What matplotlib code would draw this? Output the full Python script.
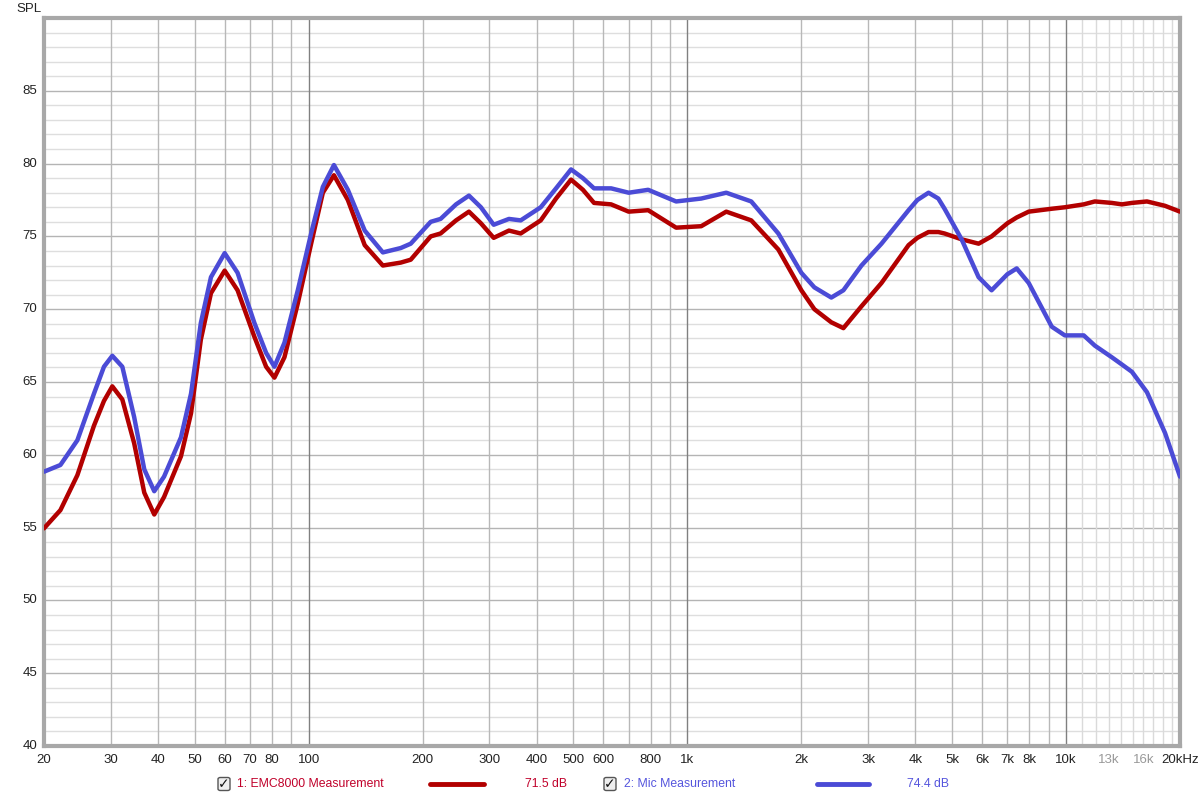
import numpy as np
import matplotlib
matplotlib.use("Agg")
import matplotlib.pyplot as plt
from matplotlib.patches import FancyBboxPatch
from matplotlib.lines import Line2D

# ---------------- data ----------------
freq_hz = [20, 22.1, 24.5, 27.1, 28.8, 30.3, 32.2, 34.6, 36.8, 39.1, 41.5, 46.0, 48.9, 51.9,
           55.2, 60, 64.9, 71.9, 77.2, 81.2, 86.3, 93.6, 101.5, 109, 116.6, 126.9, 140.6,
           157, 175, 186, 210, 223, 245, 265, 285, 308, 338, 363, 410, 450, 493, 530, 567,
           629, 700, 788, 934, 1088, 1267, 1475, 1739, 2000, 2165, 2400, 2583, 2883, 3256,
           3839, 4050, 4335, 4600, 4778, 5300, 5877, 6360, 7000, 7410, 7971, 9170, 9929,
           11140, 11914, 13210, 14050, 14930, 16360, 18260, 20000]

emc8000_db = [54.95, 56.2, 58.6, 62.0, 63.7, 64.7, 63.8, 60.8, 57.4, 55.9, 57.1, 59.9, 62.85, 67.9,
              71.1, 72.65, 71.3, 68.1, 66.05, 65.3, 66.7, 70.4, 74.5, 78.0, 79.2, 77.5, 74.4,
              73.0, 73.2, 73.4, 75.0, 75.2, 76.1, 76.7, 75.9, 74.9, 75.4, 75.2, 76.1, 77.6, 78.9, 78.2, 77.3,
              77.2, 76.7, 76.8, 75.6, 75.7, 76.7, 76.1, 74.1, 71.3, 70.0, 69.1, 68.7, 70.2, 71.8,
              74.4, 74.9, 75.3, 75.3, 75.2, 74.8, 74.5, 75.0, 75.9, 76.3, 76.7, 76.9, 77.0,
              77.2, 77.4, 77.3, 77.2, 77.3, 77.4, 77.1, 76.7]

mic_db = [58.84, 59.3, 61.0, 64.2, 66.05, 66.8, 66.05, 62.6, 59.0, 57.5, 58.5, 61.2, 64.2, 69.05,
          72.2, 73.85, 72.5, 69.05, 67.0, 66.05, 67.7, 71.3, 75.2, 78.4, 79.9, 78.2, 75.4,
          73.9, 74.2, 74.5, 76.0, 76.2, 77.2, 77.8, 77.0, 75.8, 76.2, 76.1, 77.0, 78.3, 79.6, 79.0, 78.3,
          78.3, 78.0, 78.2, 77.4, 77.6, 78.0, 77.4, 75.2, 72.5, 71.5, 70.8, 71.3, 73.0, 74.5,
          76.8, 77.5, 78.0, 77.6, 76.9, 74.8, 72.2, 71.3, 72.4, 72.8, 71.8, 68.8, 68.2,
          68.2, 67.5, 66.7, 66.2, 65.7, 64.3, 61.5, 58.5]

series_names = ["1: EMC8000 Measurement", "2: Mic Measurement"]
series_levels = ["71.5 dB", "74.4 dB"]

x_tick_values = [20, 30, 40, 50, 60, 70, 80, 100, 200, 300, 400, 500, 600, 800,
                 1000, 2000, 3000, 4000, 5000, 6000, 7000, 8000, 10000, 13000, 16000, 20000]
x_tick_labels = ["20", "30", "40", "50", "60", "70", "80", "100", "200", "300", "400", "500",
                 "600", "800", "1k", "2k", "3k", "4k", "5k", "6k", "7k", "8k", "10k", "13k",
                 "16k", "20kHz"]
y_tick_values = [40, 45, 50, 55, 60, 65, 70, 75, 80, 85]

# ---------------- style ----------------
RED = "#b20000"
BLUE = "#4b4bd6"
RED_TXT = "#c0002a"
BLUE_TXT = "#5555dd"
FONT = "Liberation Sans"

W, H = 1200, 798
fig = plt.figure(figsize=(W / 100, H / 100), dpi=100)
L, R, T, B = 44, 1180, 18, 746
ax = fig.add_axes([L / W, 1 - B / H, (R - L) / W, (B - T) / H])
ax.set_xscale("log")
ax.set_xlim(20, 20000)
ax.set_ylim(40, 90)

# grid lines
for v in range(41, 90):
    c = "#b4b4b4" if v % 5 == 0 else "#dedede"
    ax.axhline(v, color=c, lw=1.0, zorder=1)
for dec in [10, 100, 1000]:
    for m in range(2, 10):
        f = m * dec
        if 20 < f < 20000:
            ax.axvline(f, color="#b8b8b8", lw=1.0, zorder=1)
for f in [100, 1000, 10000]:
    ax.axvline(f, color="#808080", lw=1.0, zorder=2)
for f in range(11000, 20000, 1000):
    ax.axvline(f, color="#dadada", lw=1.0, zorder=1)

ax.plot(freq_hz, emc8000_db, color=RED, lw=3.2, solid_capstyle="round",
        solid_joinstyle="round", zorder=4)
ax.plot(freq_hz, mic_db, color=BLUE, lw=3.2, solid_capstyle="round",
        solid_joinstyle="round", zorder=5)

for s in ax.spines.values():
    s.set_color("#a8a8a8")
    s.set_linewidth(3)
ax.tick_params(which="both", length=0)
ax.set_xticks([])
ax.set_yticks([])
ax.minorticks_off()

# tick labels
for v, lab in zip(x_tick_values, x_tick_labels):
    col = "#999999" if lab in ("13k", "16k") else "#222222"
    ax.text(v, -0.011, lab, transform=ax.get_xaxis_transform(), ha="center", va="top",
            fontsize=9.5, family=FONT, color=col)
for v in y_tick_values:
    ax.text(-0.006, v, str(v), transform=ax.get_yaxis_transform(), ha="right", va="center",
            fontsize=9.5, family=FONT, color="#222222")
fig.text(16 / W, 1 - 9 / H, "SPL", ha="left", va="center", fontsize=9.5, family=FONT,
         color="#222222")

# legend
ly = 1 - 784 / H
def checkbox(xpx):
    box = FancyBboxPatch(((xpx - 6) / W, ly - 6.5 / H), 12 / W, 13 / H,
                         boxstyle="round,pad=0,rounding_size=0.002",
                         transform=fig.transFigure, facecolor="#eeeeee",
                         edgecolor="#555555", lw=1.0)
    fig.patches.append(box)
    fig.text(xpx / W, ly, "\u2713", ha="center", va="center", fontsize=10,
             family="DejaVu Sans", color="#111111", fontweight="bold")

LFS = 8.8
checkbox(224)
fig.text(237 / W, ly, series_names[0], ha="left", va="center", fontsize=LFS,
         family=FONT, color=RED_TXT)
fig.lines.append(Line2D([430 / W, 484 / W], [ly, ly], transform=fig.transFigure,
                        color=RED, lw=3.5, solid_capstyle="round"))
fig.text(525 / W, ly, series_levels[0], ha="left", va="center", fontsize=LFS,
         family=FONT, color=RED_TXT)
checkbox(610)
fig.text(624 / W, ly, series_names[1], ha="left", va="center", fontsize=LFS,
         family=FONT, color=BLUE_TXT)
fig.lines.append(Line2D([817 / W, 869 / W], [ly, ly], transform=fig.transFigure,
                        color=BLUE, lw=3.5, solid_capstyle="round"))
fig.text(907 / W, ly, series_levels[1], ha="left", va="center", fontsize=LFS,
         family=FONT, color=BLUE_TXT)

fig.savefig("out.png", dpi=100, facecolor="white")
